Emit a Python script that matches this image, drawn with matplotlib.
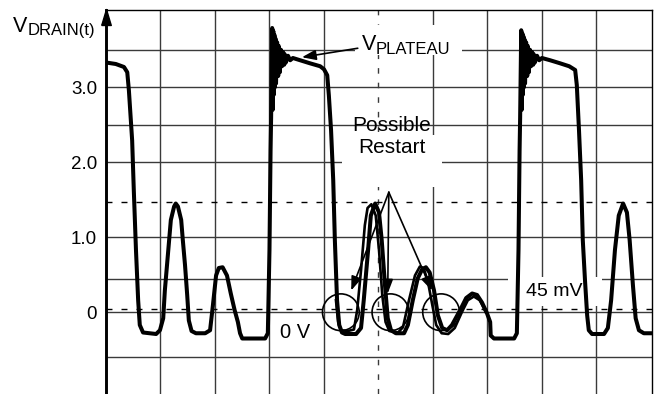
import numpy as np
import matplotlib
matplotlib.use("Agg")
import matplotlib.pyplot as plt
from matplotlib.path import Path
from matplotlib.patches import Rectangle

plt.rcParams['font.family'] = ['Liberation Sans', 'DejaVu Sans']

# time in scope divisions, drain voltage in volts
drain_t = [0.00, 0.18, 0.33, 0.39, 0.42, 0.48, 0.51, 0.55, 0.59, 0.62, 0.68,
           0.92, 0.99, 1.05, 1.08, 1.12, 1.16, 1.19, 1.25, 1.28, 1.32, 1.38,
           1.41, 1.45, 1.49, 1.52, 1.57, 1.65, 1.82, 1.91, 1.96, 2.02, 2.07,
           2.14, 2.22, 2.29, 2.36, 2.42, 2.46, 2.50, 2.55, 2.92, 2.97, 3.00,
           3.02, 3.03,
           # ringing at turn-off
           3.05, 3.06, 3.07, 3.08, 3.09, 3.10, 3.11, 3.12, 3.14, 3.16, 3.17,
           3.19, 3.21, 3.23, 3.25, 3.27, 3.28, 3.30, 3.34, 3.38, 3.43,
           3.56, 3.74, 3.93, 4.00, 4.06, 4.09, 4.13, 4.17, 4.20, 4.24, 4.28,
           4.33, 4.39, 4.59, 4.68, 4.73, 4.81, 4.86, 4.94, 5.01, 5.06, 5.12,
           5.17, 5.23, 5.32, 5.47, 5.54, 5.63, 5.72, 5.80, 5.87, 5.94, 6.02,
           6.09, 6.17, 6.26, 6.35, 6.50, 6.61, 6.72, 6.81, 6.90, 6.99, 7.05,
           7.06, 7.12, 7.49, 7.54, 7.57, 7.59, 7.60,
           7.62, 7.63, 7.64, 7.65, 7.66, 7.67, 7.68, 7.69, 7.71, 7.73, 7.74,
           7.76, 7.78, 7.80, 7.82, 7.84, 7.85, 7.87, 7.91, 7.95, 8.00,
           8.15, 8.33, 8.50, 8.61, 8.64, 8.68, 8.72, 8.75, 8.79, 8.83, 8.86,
           8.92, 9.14, 9.21, 9.27, 9.34, 9.41, 9.49, 9.56, 9.61, 9.67, 9.72,
           9.78, 9.87, 10.02]
drain_v = [3.33, 3.31, 3.27, 3.20, 2.96, 2.29, 1.63, 0.83, 0.16, -0.17, -0.27,
           -0.29, -0.24, -0.08, 0.29, 0.63, 0.96, 1.23, 1.41, 1.45, 1.41, 1.23,
           0.96, 0.63, 0.23, -0.11, -0.25, -0.28, -0.28, -0.24, 0.08, 0.49,
           0.59, 0.60, 0.49, 0.25, 0.03, -0.13, -0.28, -0.35, -0.35, -0.35,
           -0.28, 0.83, 2.16, 2.59,
           3.79, 2.70, 3.75, 2.90, 3.70, 3.00, 3.65, 3.05, 3.60, 3.15, 3.55,
           3.20, 3.50, 3.28, 3.47, 3.30, 3.44, 3.33, 3.42, 3.36, 3.39,
           3.36, 3.32, 3.28, 3.24, 3.16, 2.89, 2.43, 1.76, 0.96, 0.16, -0.17,
           -0.27, -0.29, -0.29, -0.21, 0.16, 0.83, 1.29, 1.45, 1.33, 0.96,
           0.36, -0.08, -0.24, -0.28, -0.28, -0.17, 0.16, 0.45, 0.57, 0.60,
           0.53, 0.29, -0.04, -0.21, -0.24, -0.17, 0.03, 0.19, 0.25, 0.23,
           0.13, -0.01, -0.13, -0.31, -0.35, -0.35, -0.28, 0.83, 2.16, 2.59,
           3.76, 2.70, 3.72, 2.90, 3.68, 3.00, 3.64, 3.05, 3.60, 3.15, 3.55,
           3.20, 3.50, 3.28, 3.47, 3.30, 3.44, 3.33, 3.42, 3.36, 3.39,
           3.36, 3.32, 3.28, 3.23, 3.03, 2.43, 1.76, 0.96, 0.43, -0.04, -0.24,
           -0.29, -0.29, -0.21, 0.16, 0.83, 1.29, 1.45, 1.33, 0.96, 0.36,
           -0.08, -0.24, -0.28, -0.28]

# second sweep overlapping the restart ringing
sweep2_t = [4.22, 4.26, 4.31, 4.44, 4.55, 4.61, 4.68, 4.75, 4.80, 4.87, 4.95,
            5.01, 5.07, 5.13, 5.20, 5.36, 5.45, 5.56, 5.67, 5.76, 5.83, 5.91,
            5.99, 6.06, 6.16, 6.28, 6.40, 6.53, 6.64, 6.75, 6.86, 6.97]
sweep2_v = [0.16, -0.13, -0.24, -0.25, -0.23, 0.03, 0.56, 1.16, 1.39, 1.44,
            1.29, 0.83, 0.23, -0.13, -0.25, -0.27, -0.20, 0.16, 0.49, 0.61,
            0.59, 0.40, 0.09, -0.17, -0.28, -0.29, -0.21, 0.00, 0.16, 0.21,
            0.16, 0.00]

# restart points (circled) and grid levels
restart_t = [4.31, 5.22, 6.15]
restart_v = [0.0, 0.0, 0.0]
v_grid = [3.5, 3.0, 2.5, 2.0, 1.0, 0.45, 0.0, -0.59]
v_dashed = [1.47, 0.045]
t_grid = [1, 2, 3, 4, 6, 7, 8, 9]
t_dashed = [5]
tick_vals = [3.0, 2.0, 1.0, 0.0]
tick_labels = ['3.0', '2.0', '1.0', '0']

fig = plt.figure(figsize=(6.54, 3.94), dpi=100)
ax = fig.add_axes([106 / 654, 0, 546 / 654, 384 / 394])
ax.set_xlim(0, 10.02)
ax.set_ylim(-1.09, 4.03)

grid_col = '#3a3a3a'
for t in t_grid:
    ax.axvline(t, color=grid_col, lw=1.0, zorder=1)
for t in t_dashed:
    ax.axvline(t, color=grid_col, lw=1.0, ls=(0, (4, 6.5)), zorder=1)
for v in v_grid:
    ax.axhline(v, color=grid_col, lw=1.0, zorder=1)
for v in v_dashed:
    ax.axhline(v, color='k', lw=1.0, ls=(0, (4.3, 6.5)), zorder=1)

# white boxes behind the labels
for (x0, x1, y0, y1) in [(4.57, 6.53, 3.43, 3.83), (4.33, 6.17, 1.67, 2.36),
                         (7.38, 9.10, 0.08, 0.47)]:
    ax.add_patch(Rectangle((x0, y0), x1 - x0, y1 - y0, fc='white', ec='none', zorder=1.5))

# the waveform
ax.plot(drain_t, drain_v, color='k', lw=2.9, solid_joinstyle='round', zorder=3)
ax.plot(sweep2_t, sweep2_v, color='k', lw=1.9, solid_joinstyle='round', zorder=3)

# circles and arrows for possible restart
ax.scatter(restart_t, restart_v, s=700, facecolors='none', edgecolors='k',
           linewidths=1.2, zorder=4)
arrow_kw = dict(arrowstyle='-|>,head_length=0.6,head_width=0.22', color='k',
                lw=1.2, mutation_scale=14, shrinkA=0, shrinkB=0)
for end in [(4.50, 0.29), (5.17, 0.25), (5.98, 0.29)]:
    ax.annotate('', xy=end, xytext=(5.19, 1.60), arrowprops=arrow_kw, zorder=5)
ax.text(5.25, 2.12, 'Possible\nRestart', fontsize=15, ha='center', va='baseline',
        linespacing=1.2, zorder=5)

# plateau label
ax.annotate('', xy=(3.596, 3.40), xytext=(4.62, 3.52), arrowprops=arrow_kw, zorder=5)
ax.text(4.70, 3.49, 'V', fontsize=15.5, va='baseline', zorder=5)
ax.text(4.95, 3.45, 'PLATEAU', fontsize=12, va='baseline', zorder=5)

ax.text(3.19, -0.27, '0 V', fontsize=14.5, va='center', zorder=5)
ax.text(8.22, 0.28, '45 mV', fontsize=14, ha='center', va='center', zorder=5)

# axis label outside the grid
fig.text(13 / 654, 1 - 32 / 394, 'V', fontsize=15.5, va='baseline')
fig.text(28 / 654, 1 - 35 / 394, 'DRAIN(t)', fontsize=12, va='baseline')

# frame: thick left axis with arrow, thin top and right
ax.spines['bottom'].set_visible(False)
ax.spines['left'].set_linewidth(2.1)
ax.spines['top'].set_linewidth(1.0)
ax.spines['right'].set_linewidth(1.0)
head = Path([(-0.6, -1.0), (0.0, 1.0), (0.6, -1.0), (-0.6, -1.0)])
ax.plot(0, 1 - 7 / 384, marker=head, ms=11.5, color='k', transform=ax.transAxes,
        clip_on=False, zorder=6)

ax.set_xticks([])
ax.set_yticks(tick_vals)
ax.set_yticklabels(tick_labels)
ax.tick_params(axis='y', length=0, pad=6.5, labelsize=13.5)

fig.savefig('out.png', dpi=100)
